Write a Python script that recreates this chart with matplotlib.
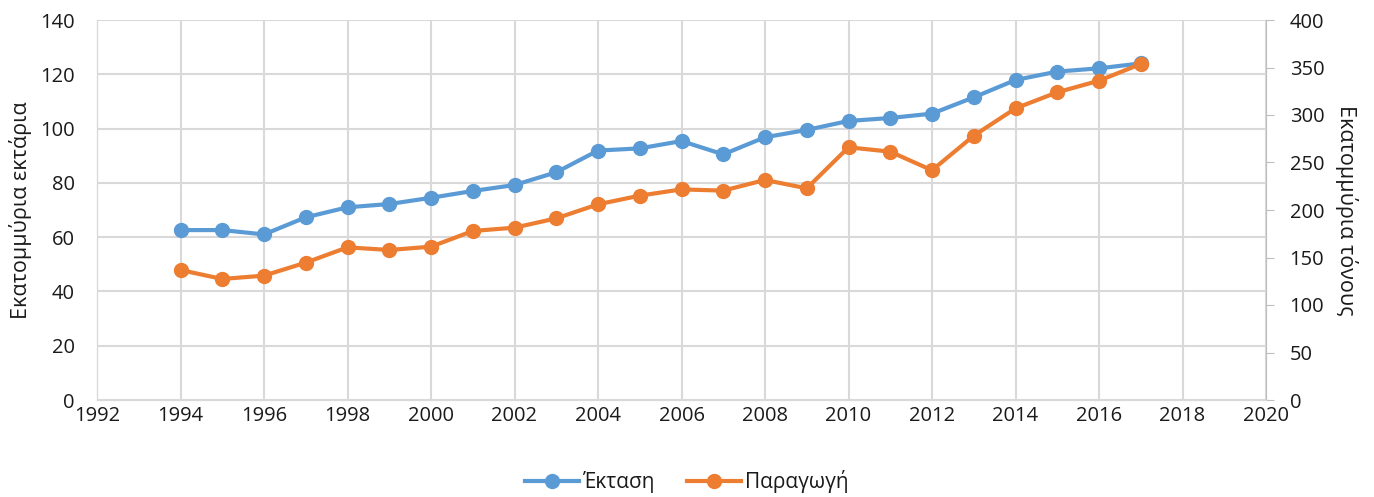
import matplotlib.pyplot as plt
import numpy as np

plt.rcParams['font.family'] = ['Open Sans', 'DejaVu Sans']

years = np.arange(1994, 2018)
# Έκταση, εκατομμύρια εκτάρια (αριστερός άξονας)
ektasi = [62.6, 62.6, 61.0, 67.3, 71.0, 72.2, 74.5, 77.0, 79.2, 83.9, 91.9, 92.7,
          95.4, 90.5, 96.8, 99.5, 102.8, 103.9, 105.5, 111.5, 117.9, 121.0, 122.2, 124.0]
# Παραγωγή, εκατομμύρια τόνοι (δεξιός άξονας)
paragogi = [136.8, 127.4, 130.9, 144.6, 160.7, 157.9, 161.4, 177.9, 181.4, 191.2, 206.0, 215.1,
            221.7, 220.4, 231.6, 222.8, 266.0, 261.4, 241.8, 278.2, 307.0, 323.9, 336.1, 353.7]

blue = '#5B9BD5'
orange = '#ED7D31'
grid_c = '#D9D9D9'
txt = '#1a1a1a'

fig = plt.figure(figsize=(13.74, 4.97), dpi=100)
ax = fig.add_axes([97/1374, 1 - 400/497, (1266 - 97)/1374, 380/497])
ax2 = ax.twinx()

l1, = ax.plot(years, ektasi, color=blue, lw=3, marker='o', ms=10, label='Έκταση')
l2, = ax2.plot(years, paragogi, color=orange, lw=3, marker='o', ms=10, label='Παραγωγή')

ax.set_xlim(1992, 2020)
ax.set_ylim(0, 140)
ax2.set_ylim(0, 400)
ax.set_xticks(np.arange(1992, 2021, 2))
ax.set_yticks(np.arange(0, 141, 20))
ax2.set_yticks(np.arange(0, 401, 50))

ax.grid(True, color=grid_c, lw=1.5)
ax.set_axisbelow(True)
for s in ['top']:
    ax.spines[s].set_visible(False)
    ax2.spines[s].set_visible(False)
for s in ['left', 'bottom', 'right']:
    ax.spines[s].set_color(grid_c)
    ax2.spines[s].set_color(grid_c)
ax.spines['left'].set_color('#BFBFBF')
ax2.spines['right'].set_color('#BFBFBF')

ax.tick_params(axis='y', length=0, labelsize=14.5, labelcolor=txt, pad=16)
ax.tick_params(axis='x', length=0, labelsize=14.5, labelcolor=txt, pad=4)
ax2.tick_params(axis='y', length=6, color='#BFBFBF', labelsize=14.5, labelcolor=txt, pad=11)

ax.set_ylabel('Εκατομμύρια εκτάρια', fontsize=15.5, color=txt, labelpad=6)
ax2.set_ylabel('Εκατομμύρια τόνους', fontsize=15.5, color=txt, rotation=270, labelpad=24)

fig.legend(handles=[l1, l2], loc='lower center', bbox_to_anchor=(0.5, -0.03), ncol=2,
           frameon=False, fontsize=15, handlelength=2.6, columnspacing=1.5, handletextpad=0.2,
           labelcolor=txt)

fig.savefig('out.png', dpi=100)
